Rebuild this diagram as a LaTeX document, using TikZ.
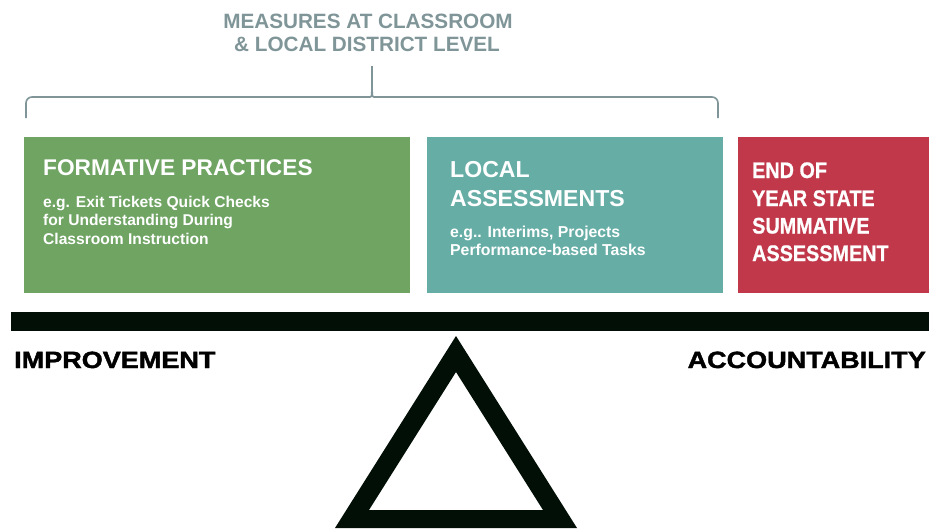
\documentclass[tikz,border=0pt]{standalone}
\usepackage{fontspec}
\setmainfont{Liberation Sans}
\newfontfamily\heavyfont[FakeBold=1.6]{Liberation Sans Bold}
\newfontfamily\thickfont[FakeBold=0.8]{Liberation Sans Bold}
\definecolor{greybrace}{HTML}{7F9598}
\definecolor{boxgreen}{HTML}{6FA463}
\definecolor{boxteal}{HTML}{66ADA6}
\definecolor{boxred}{HTML}{C0384A}
\definecolor{beam}{HTML}{020F06}
\newcommand{\narrowtext}[1]{\scalebox{0.88}[1]{#1}}
\newcommand{\widetext}[1]{\scalebox{1.15}[1]{#1}}
\begin{document}
\begin{tikzpicture}[x=1pt,y=-1pt,
  panel/.style={draw=none,inner sep=0pt,anchor=north west},
  head/.style={anchor=base west,inner sep=0pt,text=white,font=\bfseries\fontsize{22.7}{22.7}\selectfont},
  sub/.style={anchor=base west,inner sep=0pt,text=white,font=\bfseries\fontsize{15.6}{15.6}\selectfont},
  redtext/.style={anchor=base west,inner sep=0pt,text=white,font=\thickfont\fontsize{22.5}{22.5}\selectfont},
  sidelabel/.style={inner sep=0pt,font=\heavyfont\fontsize{23.5}{23.5}\selectfont},
  titletext/.style={anchor=base,inner sep=0pt,text=greybrace,font=\bfseries\fontsize{20.7}{20.7}\selectfont}]
\useasboundingbox (0,0) rectangle (929,528);
\fill[white] (0,0) rectangle (929,528);

% heading over the brace
\node[titletext] (title1) at (368,28) {MEASURES AT CLASSROOM};
\node[titletext] (title2) at (367,51) {\& LOCAL DISTRICT LEVEL};

% brace grouping the two local measures
\coordinate (tip) at (372,66);
\coordinate (bl) at (26,118);
\coordinate (br) at (718,118);
\draw[greybrace,line width=1.6pt,rounded corners=6pt]
  (bl) -- (26,97) -- (364,97) .. controls (372,97) .. (tip);
\draw[greybrace,line width=1.6pt,rounded corners=6pt]
  (br) -- (718,97) -- (380,97) .. controls (372,97) .. (tip);

% the three panels
\node[panel,fill=boxgreen,minimum width=386pt,minimum height=156pt] (formative) at (24,137) {};
\node[panel,fill=boxteal,minimum width=296pt,minimum height=156pt] (local) at (427,137) {};
\node[panel,fill=boxred,minimum width=191pt,minimum height=156pt] (state) at (738,137) {};

% formative practices
\node[head] (fhead) at (43,175) {FORMATIVE PRACTICES};
\node[sub] (fsub1) at (43,207) {e.g. Exit Tickets Quick Checks};
\node[sub] (fsub2) at (43,225.5) {for Understanding During};
\node[sub] (fsub3) at (43,244) {Classroom Instruction};

% local assessments
\node[head,font=\bfseries\fontsize{23.1}{23.1}\selectfont] (lhead1) at (450,177) {LOCAL};
\node[head,font=\bfseries\fontsize{23.1}{23.1}\selectfont] (lhead2) at (450,206) {ASSESSMENTS};
\node[sub,font=\bfseries\fontsize{15.8}{15.8}\selectfont] (lsub1) at (450,237.5) {e.g.. Interims, Projects};
\node[sub,font=\bfseries\fontsize{15.8}{15.8}\selectfont] (lsub2) at (450,255) {Performance-based Tasks};

% end of year state summative assessment
\node[redtext] (r1) at (752,178) {\narrowtext{END OF}};
\node[redtext] (r2) at (752,206) {\narrowtext{YEAR STATE}};
\node[redtext] (r3) at (752,233.5) {\narrowtext{SUMMATIVE}};
\node[redtext] (r4) at (752,261) {\narrowtext{ASSESSMENT}};

% the balance: beam and fulcrum
\fill[beam] (11,312) rectangle (929,331);
\fill[beam,even odd rule]
  (456,336) -- (577,528) -- (335,528) -- cycle
  (456,372) -- (543,510) -- (369,510) -- cycle;

\node[sidelabel,anchor=base west] (improve) at (14,368) {\widetext{IMPROVEMENT}};
\node[sidelabel,anchor=base east] (account) at (926,368) {\widetext{ACCOUNTABILITY}};
\end{tikzpicture}
\end{document}
